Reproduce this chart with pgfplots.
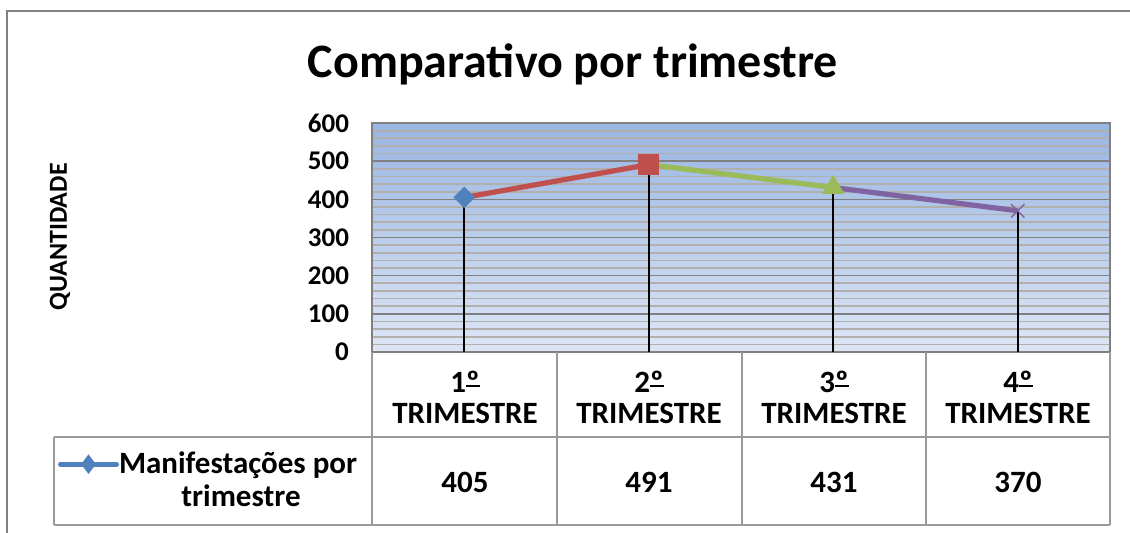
\documentclass[border=0pt]{standalone}
\usepackage{pgfplots}
\pgfplotsset{compat=1.18}
\usepackage{fontspec}
\setmainfont{Carlito}
\definecolor{cblue}{HTML}{4F81BD}
\definecolor{cred}{HTML}{C0504D}
\definecolor{cgreen}{HTML}{9BBB59}
\definecolor{cpurple}{HTML}{8064A2}
\definecolor{bgtop}{HTML}{99B5E2}
\definecolor{bgbot}{HTML}{DDE6F5}
\definecolor{majgrid}{HTML}{808080}
\definecolor{mingrid}{HTML}{B2B0AC}
\definecolor{tabline}{HTML}{9A9A9A}
\newcommand\ordm{\setbox0\hbox{º}\rlap{\copy0}\raisebox{0.17em}{\rule{\wd0}{0.075em}}}
\pgfplotsset{mylegimg/.style={legend image code/.code={\draw[mark repeat=2, mark phase=2, ##1] plot coordinates {(0pt,0pt) (14pt,0pt) (28pt,0pt)};}}}
\begin{document}
\begin{tikzpicture}
\useasboundingbox (0,0) rectangle (565pt,-266pt);
\begin{axis}[
  at={(186pt,-176pt)}, anchor=south west,
  scale only axis, width=369pt, height=114.5pt,
  xmin=0, xmax=4, ymin=0, ymax=600,
  xtick=\empty,
  ytick={0,100,...,600},
  minor y tick num=4,
  ymajorgrids, yminorgrids,
  major grid style={draw=majgrid, line width=0.8pt},
  minor grid style={draw=mingrid, line width=0.85pt},
  axis line style={draw=majgrid, line width=0.8pt},
  tick style={draw=none},
  yticklabel style={font=\fontsize{13.5}{15}\selectfont\bfseries, xshift=-8pt},
  /pgf/number format/assume math mode=true,
  axis background/.style={top color=bgtop, bottom color=bgbot},
  clip=false,
  legend style={at={(-0.426,-0.49)}, anchor=west, draw=none, fill=none,
    inner sep=0pt, font=\fontsize{15.5}{17}\selectfont\bfseries,
    nodes={inner sep=0pt},
    /tikz/every even column/.append style={column sep=2pt}},
]
\addplot[forget plot, cred, line width=2.6pt] coordinates {(0.5,405) (1.5,491)};
\addplot[forget plot, cgreen, line width=2.6pt] coordinates {(1.5,491) (2.5,431)};
\addplot[forget plot, cpurple, line width=2.6pt] coordinates {(2.5,431) (3.5,370)};
\addplot[forget plot, only marks, mark=square*, mark size=3.6pt, mark options={rotate=45, fill=cblue, draw=cblue}] coordinates {(0.5,405)};
\addplot[forget plot, only marks, mark=square*, mark size=5pt, mark options={fill=cred, draw=cred}] coordinates {(1.5,491)};
\addplot[forget plot, only marks, mark=triangle*, mark size=6pt, mark options={fill=cgreen, draw=cgreen}] coordinates {(2.5,431)};
\addplot[forget plot, only marks, mark=x, mark size=4.75pt, mark options={draw=cpurple, line width=0.7pt}] coordinates {(3.5,370)};
\addplot[forget plot, ycomb, black, line width=0.8pt, no markers] coordinates {(0.5,405) (1.5,491) (2.5,431) (3.5,370)};
\addlegendimage{mylegimg, cblue, line width=2.5pt, line cap=round, mark=diamond*, mark size=4.5pt, mark options={solid, fill=cblue, draw=cblue, line width=0.5pt}}
\addlegendentry{Manifestações por}
\end{axis}
\begin{scope}[x=0.5pt, y=-0.5pt]
  % outer frame
  \draw[draw=majgrid, line width=0.9pt] (7,540) -- (7,11) -- (1140,11);
  % title
  \node[anchor=base, font=\fontsize{24}{28}\selectfont\bfseries] at (573,77) {Comparativo por trimestre};
  % y label
  \node[rotate=90, font=\fontsize{13}{15}\selectfont\bfseries] at (60,237) {QUANTIDADE};
  % table
  \draw[draw=tabline, line width=0.75pt] (54,437) -- (1110,437);
  \draw[draw=tabline, line width=0.75pt] (54,525) -- (1110,525);
  \draw[draw=tabline, line width=0.75pt] (54,437) -- (54,525);
  \foreach \xx in {372,557,742,926,1110} {
    \draw[draw=tabline, line width=0.75pt] (\xx,352) -- (\xx,525);
  }
  \foreach \xx/\lab in {465/1,649/2,834/3,1018/4} {
    \node[align=center, font=\fontsize{15.5}{15.5}\selectfont\bfseries] at (\xx,397) {\lab\ordm\\TRIMESTRE};
  }
  \foreach \xx/\val in {465/405,649/491,834/431,1018/370} {
    \node[font=\fontsize{15.5}{17}\selectfont\bfseries] at (\xx,482) {\val};
  }
  \node[anchor=base, font=\fontsize{15.5}{17}\selectfont\bfseries] at (241,506) {trimestre};
\end{scope}
\end{tikzpicture}
\end{document}
